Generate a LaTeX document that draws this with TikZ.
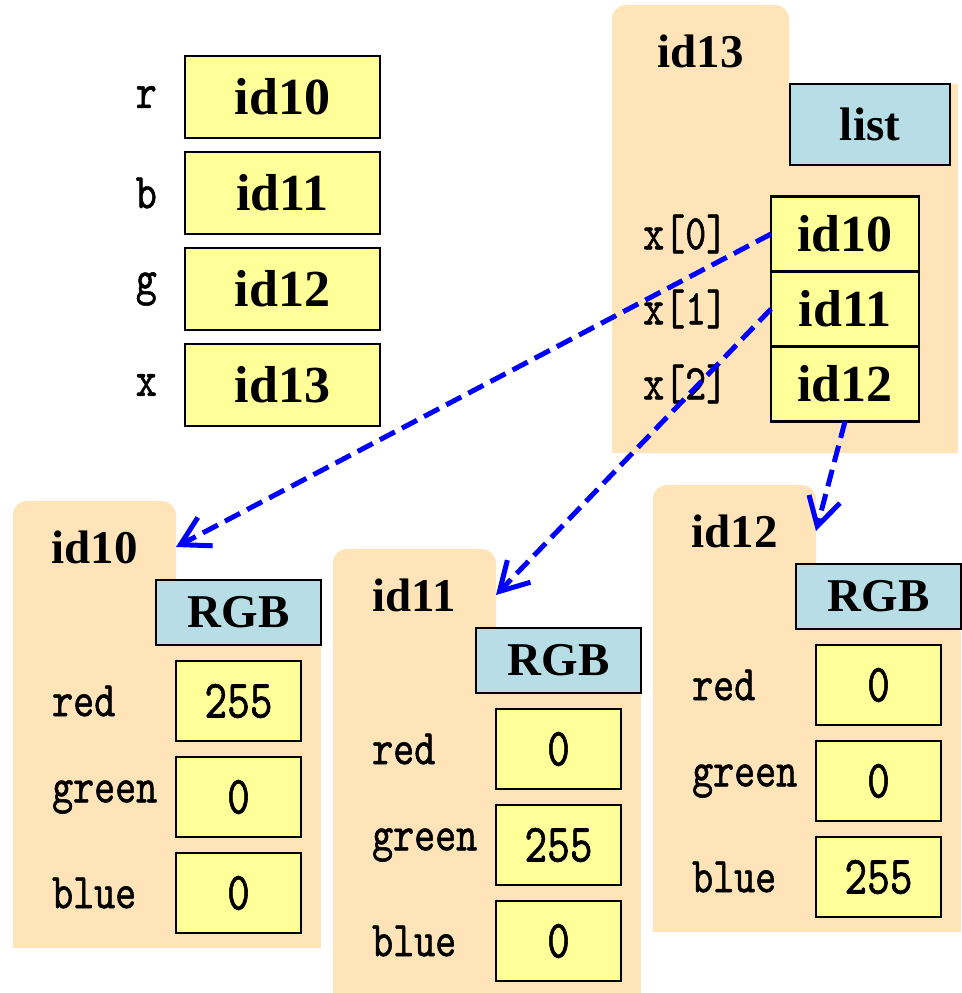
\documentclass[tikz,border=0pt]{standalone}
\usepackage{fontspec}
\setmainfont{Liberation Serif}
\newfontfamily\typew{lmmono10-regular.otf}[FakeStretch=0.8, FakeBold=1]
\usepackage{xcolor}
\usetikzlibrary{arrows.meta, positioning}

\definecolor{folderfill}{RGB}{255,227,185}
\definecolor{boxfill}{RGB}{255,255,153}
\definecolor{typefill}{RGB}{183,222,230}

\begin{document}
\begin{tikzpicture}[
    x=1pt, y=-1pt,
    node distance=16pt,
    idbox/.style={rectangle, draw, line width=2.5pt, fill=boxfill, outer sep=0pt, inner sep=0pt, minimum width=195pt, minimum height=82pt, font=\fontsize{52}{56}\selectfont\bfseries},
    refbox/.style={idbox, minimum width=148pt, minimum height=75pt},
    valbox/.style={rectangle, draw, line width=2.5pt, fill=boxfill, outer sep=0pt, inner sep=0pt, minimum width=125pt, minimum height=80pt, font=\fontsize{54}{58}\typew},
    typebox/.style={rectangle, draw, line width=2.5pt, fill=typefill, outer sep=0pt, inner sep=0pt, minimum width=165pt, minimum height=65pt, font=\fontsize{47}{50}\selectfont\bfseries},
    tab/.style={rectangle, rounded corners=14pt, fill=folderfill, anchor=north west, outer sep=0pt, inner sep=0pt, minimum height=92pt, font=\fontsize{47}{50}\selectfont\bfseries},
    varname/.style={inner sep=0pt, font=\fontsize{50}{54}\typew},
    ptr/.style={draw=blue, line width=5pt, dash pattern=on 17pt off 8pt, -{Straight Barb[length=28pt, width=32pt]}}
]
    \useasboundingbox (0,0) rectangle (961,993);

    % Global variables
    \node[idbox] (r) at (282.5,97) {id10};
    \node[idbox, below=14pt of r] (b) {id11};
    \node[idbox, below=14pt of b] (g) {id12};
    \node[idbox, below=14pt of g] (x) {id13};
    \node[varname, left=28pt of r] (lr) {r};
    \node[varname, left=28pt of b] (lb) {b};
    \node[varname, left=28pt of g] (lg) {g};
    \node[varname, left=28pt of x] (lx) {x};

    % List folder
    \node[tab, minimum width=177pt] (tab13) at (612,5) {id13};
    \fill[folderfill] (612,84) rectangle (958,453);
    \node[typebox, minimum width=160pt, minimum height=81pt] (list13) at (870,124.5) {list};
    \node[refbox] (x0) at (845,234) {id10};
    \node[refbox, below=0pt of x0] (x1) {id11};
    \node[refbox, below=0pt of x1] (x2) {id12};
    \node[varname, anchor=west] (lx0) at (643,234) {x[0]};
    \node[varname, anchor=west] (lx1) at (643,309) {x[1]};
    \node[varname, anchor=west] (lx2) at (643,384) {x[2]};

    % RGB folders
    \begin{scope}[shift={(13,501)}]
        \node[tab, minimum width=163pt] (tab10) at (0,0) {id10};
        \fill[folderfill] (0,79) rectangle (308,447);
        \node[typebox] (rgb10) at (225.5,111.5) {RGB};
        \node[valbox, below=of rgb10] (red10) {255};
        \node[valbox, below=of red10] (green10) {0};
        \node[valbox, below=of green10] (blue10) {0};
        \node[varname, anchor=west] (lred10) at (39,200) {red};
        \node[varname, anchor=west] (lgreen10) at (39,296) {green};
        \node[varname, anchor=west] (lblue10) at (39,392) {blue};
    \end{scope}
    \begin{scope}[shift={(333,549)}]
        \node[tab, minimum width=163pt] (tab11) at (0,0) {id11};
        \fill[folderfill] (0,79) rectangle (308,447);
        \node[typebox] (rgb11) at (225.5,111.5) {RGB};
        \node[valbox, below=of rgb11] (red11) {0};
        \node[valbox, below=of red11] (green11) {255};
        \node[valbox, below=of green11] (blue11) {0};
        \node[varname, anchor=west] (lred11) at (39,200) {red};
        \node[varname, anchor=west] (lgreen11) at (39,296) {green};
        \node[varname, anchor=west] (lblue11) at (39,392) {blue};
    \end{scope}
    \begin{scope}[shift={(653,485)}]
        \node[tab, minimum width=163pt] (tab12) at (0,0) {id12};
        \fill[folderfill] (0,79) rectangle (308,447);
        \node[typebox] (rgb12) at (225.5,111.5) {RGB};
        \node[valbox, below=of rgb12] (red12) {0};
        \node[valbox, below=of red12] (green12) {0};
        \node[valbox, below=of green12] (blue12) {255};
        \node[varname, anchor=west] (lred12) at (39,200) {red};
        \node[varname, anchor=west] (lgreen12) at (39,296) {green};
        \node[varname, anchor=west] (lblue12) at (39,392) {blue};
    \end{scope}

    % Pointers
    \draw[ptr] (x0.west) -- (tab10.east);
    \draw[ptr] (x1.west) -- (tab11.east);
    \draw[ptr] (x2.south) -- (tab12.east);
\end{tikzpicture}
\end{document}
